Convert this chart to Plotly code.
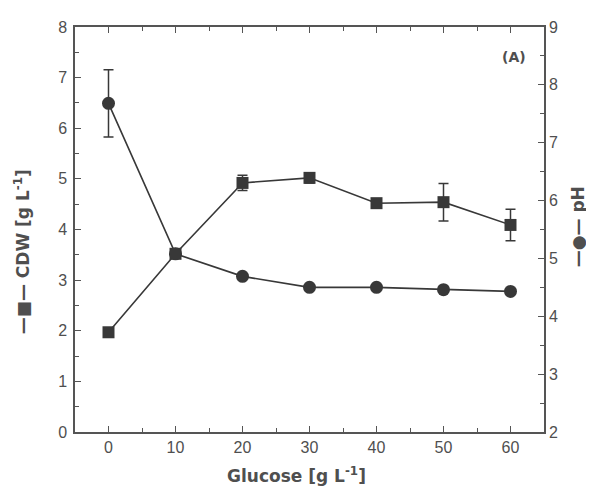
import plotly.graph_objects as go

glucose = [0, 10, 20, 30, 40, 50, 60]
cdw = [1.97, 3.52, 4.92, 5.02, 4.52, 4.54, 4.09]
cdw_err = [0.0, 0.0, 0.15, 0.1, 0.05, 0.37, 0.31]
ph = [7.68, 5.08, 4.69, 4.50, 4.50, 4.46, 4.43]
ph_err = [0.58, 0.0, 0.0, 0.0, 0.0, 0.0, 0.0]

INK = "#383838"
AX = "#555555"
TXT = "#4f4f4f"
FONT = "Liberation Sans, Arial, sans-serif"
TFONT = "DejaVu Sans, sans-serif"

fig = go.Figure()
fig.add_trace(go.Scatter(
    x=glucose, y=cdw, mode="lines+markers", name="CDW",
    line=dict(color=INK, width=1.6),
    marker=dict(symbol="square", size=12, color=INK),
    error_y=dict(type="data", array=cdw_err, color=INK, thickness=1.5, width=5),
    yaxis="y"))
fig.add_trace(go.Scatter(
    x=glucose, y=ph, mode="lines+markers", name="pH",
    line=dict(color=INK, width=1.6),
    marker=dict(symbol="circle", size=13, color=INK),
    error_y=dict(type="data", array=ph_err, color=INK, thickness=1.5, width=5),
    yaxis="y2"))

axis_common = dict(showline=True, linecolor=AX, linewidth=1.5, ticks="inside",
                   ticklen=6, tickwidth=1.3, tickcolor=AX, showgrid=False, zeroline=False,
                   automargin=False,
                   tickfont=dict(family=FONT, size=16, color=TXT))

title_font = dict(family=TFONT, size=17, color=TXT)

fig.update_layout(
    width=594, height=486, showlegend=False,
    margin=dict(l=67, r=58, t=19, b=62),
    plot_bgcolor="white", paper_bgcolor="white",
    xaxis=dict(range=[-5, 65], tickvals=glucose, mirror="ticks",
               minor=dict(ticks="inside", dtick=5, tick0=0, ticklen=4, tickcolor=AX),
               **axis_common),
    yaxis=dict(range=[0, 8], dtick=1, ticklabelstandoff=3,
               minor=dict(ticks="inside", dtick=0.5, ticklen=4, tickcolor=AX),
               **axis_common),
    yaxis2=dict(range=[2, 9], dtick=1, overlaying="y", side="right",
                minor=dict(ticks="inside", dtick=0.5, ticklen=4, tickcolor=AX),
                **axis_common),
    annotations=[
        dict(text="<b>(A)</b>", x=0.935, y=0.926, xref="paper", yref="paper",
             showarrow=False, xanchor="center", yanchor="middle",
             font=dict(family=TFONT, size=14, color=TXT)),
        dict(text="<b>Glucose [g L<sup>-1</sup>]</b>", x=0.473, y=-0.106, xref="paper", yref="paper",
             showarrow=False, xanchor="center", yanchor="middle", font=title_font),
        dict(text="<b>—■— CDW [g L<sup>-1</sup>]</b>", x=-0.113, y=0.444, xref="paper", yref="paper",
             textangle=-90, showarrow=False, xanchor="center", yanchor="middle", font=title_font),
        dict(text="<b>—●— pH</b>", x=1.073, y=0.506, xref="paper", yref="paper",
             textangle=-90, showarrow=False, xanchor="center", yanchor="middle", font=title_font),
    ]
)

fig.write_html("out.html")
